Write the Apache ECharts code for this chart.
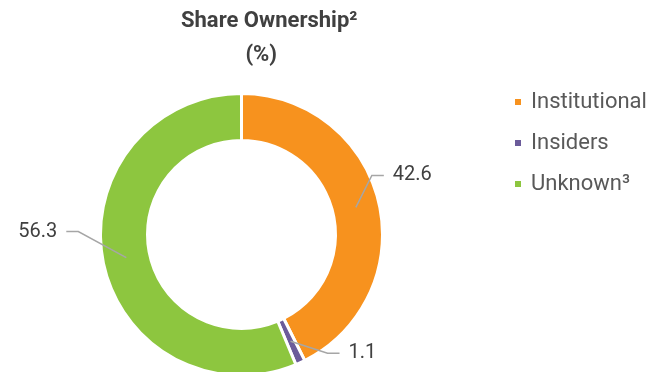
<!DOCTYPE html>
<html>
<head>
<meta charset="utf-8">
<script src="https://cdn.jsdelivr.net/npm/echarts@6/dist/echarts.min.js"></script>
<style>
  html, body { margin: 0; padding: 0; background: #ffffff; }
  #chart { width: 669px; height: 372px; }
</style>
</head>
<body>
<div id="chart"></div>
<script>
// Ownership breakdown, in percent
const categories = ['Institutional', 'Insiders', 'Unknown³'];
const shares = [42.6, 1.1, 56.3];
const colors = ['#F7921E', '#6B5B9A', '#8DC63F'];

// Donut geometry
const CX = 241.5, CY = 234.5, R_IN = 94, R_OUT = 141;
const R_LINE = (R_IN + R_OUT) / 2;               // leader lines start mid-ring
const ELBOW = [[16, -32], [37, 12], [-48, -26]]; // elbow offset from line start
const TAIL = 12, TEXT_GAP = 9;

const total = shares.reduce((a, b) => a + b, 0);
const midAngles = [];
let acc = 0;
shares.forEach(v => { midAngles.push((acc + v / 2) / total * 2 * Math.PI); acc += v; });

// Leader line geometry for slice i: start on the ring, elbow, end of tail
function leader(i) {
  const a = midAngles[i];
  const sx = CX + R_LINE * Math.sin(a);
  const sy = CY - R_LINE * Math.cos(a);
  const ex = sx + ELBOW[i][0];
  const ey = sy + ELBOW[i][1];
  const dir = ELBOW[i][0] >= 0 ? 1 : -1;
  return { sx, sy, ex, ey, tx: ex + dir * TAIL, dir };
}

const TITLE_FONT = 'Roboto, "Liberation Sans", sans-serif';

const chart = echarts.init(document.getElementById('chart'));
chart.setOption({
  animation: false,
  title: {
    text: '{a|Share Ownership²}\n{b|(%)}',
    left: 181,
    top: 4,
    padding: 0,
    textStyle: {
      rich: {
        a: { fontFamily: TITLE_FONT, fontWeight: 'bold', fontSize: 22, lineHeight: 34, color: '#404040' },
        b: { fontFamily: TITLE_FONT, fontWeight: 'bold', fontSize: 22, lineHeight: 34, color: '#404040', align: 'center', padding: [0, 16, 0, 0] }
      }
    }
  },
  legend: {
    orient: 'vertical',
    left: 513,
    top: 91,
    padding: 0,
    icon: 'rect',
    itemWidth: 8,
    itemHeight: 8,
    itemGap: 19,
    selectedMode: false,
    textStyle: { fontFamily: 'Roboto, "Liberation Sans", sans-serif', fontSize: 22, color: '#595959', padding: [0, 0, 0, 4] },
    data: categories
  },
  series: [{
    type: 'pie',
    center: [CX, CY],
    radius: [R_IN, R_OUT],
    startAngle: 90,
    clockwise: true,
    avoidLabelOverlap: false,
    silent: true,
    itemStyle: { borderColor: '#ffffff', borderWidth: 3 },
    label: {
      show: true,
      position: 'outside',
      formatter: '{c}',
      fontFamily: 'Roboto, "Liberation Sans", sans-serif',
      fontSize: 20,
      color: '#404040'
    },
    labelLine: { show: false },
    labelLayout: function (p) {
      const g = leader(p.dataIndex);
      return {
        x: g.tx + g.dir * TEXT_GAP,
        y: g.ey,
        align: g.dir > 0 ? 'left' : 'right',
        verticalAlign: 'middle'
      };
    },
    data: categories.map((name, i) => ({ name: name, value: shares[i], itemStyle: { color: colors[i] } }))
  }, {
    // leader lines from each slice to its value label
    type: 'custom',
    coordinateSystem: 'none',
    silent: true,
    z: 3,
    data: shares.map((v, i) => [i, v]),
    renderItem: function (params, api) {
      const g = leader(api.value(0));
      return {
        type: 'polyline',
        shape: { points: [[g.sx, g.sy], [g.ex, g.ey], [g.tx, g.ey]] },
        style: { stroke: '#A6A6A6', lineWidth: 1.5, fill: null }
      };
    }
  }]
});
</script>
</body>
</html>
